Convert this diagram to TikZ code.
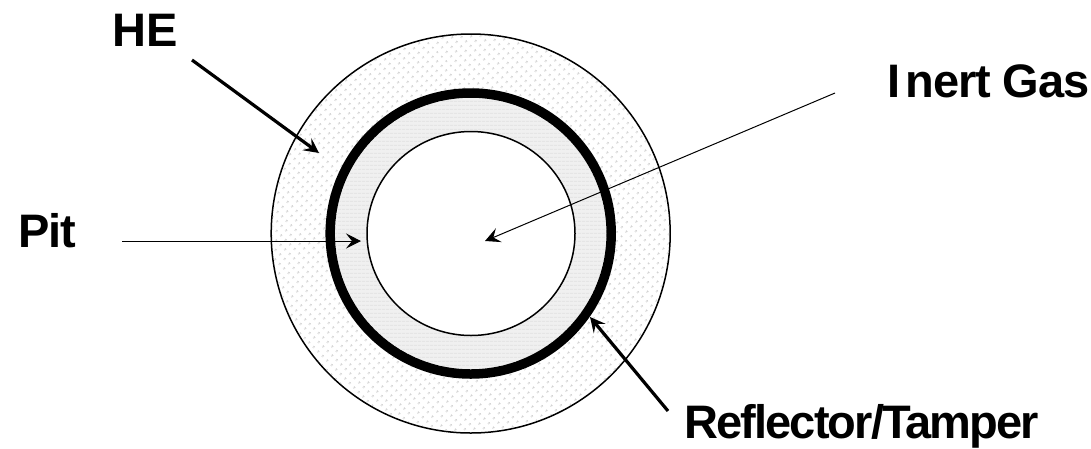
\documentclass[tikz,border=0pt]{standalone}
\usepackage{fontspec}
\setmainfont{Liberation Sans}
\usetikzlibrary{arrows.meta,patterns.meta,shapes.geometric}
\definecolor{dotgray}{gray}{0.80}
\definecolor{bandgray}{gray}{0.94}
\definecolor{stripegray}{gray}{0.90}
\newfontfamily\tightfont[LetterSpace=-4.0]{Liberation Sans}
\newfontfamily\gasfont[LetterSpace=-2.5]{Liberation Sans}
\tikzset{
  lbl/.style={font=\fontsize{47}{50}\selectfont\bfseries,inner sep=0pt,anchor=base west},
  ring/.style={draw=black,line width=1.5pt},
  thinarrow/.style={draw=black,line width=1pt,-{Stealth[length=15pt,width=15pt,inset=6pt]}},
  thickarrow/.style={draw=black,line width=3.2pt,line cap=butt,-{Stealth[length=15pt,width=15pt,inset=6pt]}}
}
\begin{document}
\begin{tikzpicture}[x=1pt,y=-1pt]
\useasboundingbox (0,0) rectangle (1091,448);
\node[circle,minimum size=399pt,inner sep=0pt,ring,fill=white] (outer) at (470.7,233.5) {};
\fill[pattern={Dots[distance=6.5pt,radius=1.3pt,angle=45]},pattern color=dotgray] (470.7,233.5) circle[radius=198.5pt];
\node[circle,minimum size=281pt,inner sep=0pt,draw=black,line width=9.5pt,fill=bandgray] (tamper) at (470.7,233.5) {};
\fill[pattern={Lines[distance=4pt,line width=1pt,angle=0]},pattern color=stripegray] (470.7,233.5) circle[radius=135.5pt];
\node[ellipse,minimum width=208pt,minimum height=204pt,inner sep=0pt,ring,fill=white] (pit) at (471,233.5) {};
\coordinate (centre) at (485,241);
\node[lbl] (he) at (112,46) {HE};
\node[lbl] (pitlabel) at (18,247) {\gasfont Pit};
\node[lbl] (gas) at (887.5,97) {\gasfont I\kern5pt nert Gas};
\node[lbl] (refl) at (684,438) {\tightfont Reflector/Tamper};
\coordinate (hestart) at (192,60);
\coordinate (heend) at (319,153);
\coordinate (pitstart) at (122,241);
\coordinate (pitend) at (361,241);
\coordinate (gasstart) at (835,93);
\coordinate (reflstart) at (668,411);
\coordinate (reflend) at (590,317);
\draw[thickarrow] (hestart) -- (heend);
\draw[thinarrow] (pitstart) -- (pitend);
\draw[thinarrow] (gasstart) -- (centre);
\draw[thickarrow] (reflstart) -- (reflend);
\end{tikzpicture}
\end{document}
